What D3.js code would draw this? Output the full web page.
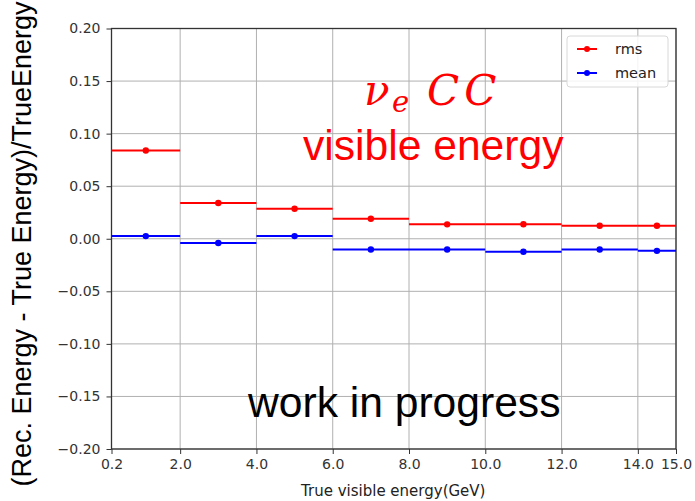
<!DOCTYPE html>
<html>
<head>
<meta charset="utf-8">
<script src="https://cdn.jsdelivr.net/npm/d3@7"></script>
<style>
  html, body { margin: 0; padding: 0; background: #fff; }
  svg { display: block; }
</style>
</head>
<body>
<div id="chart"></div>
<script>
// Energy bins (GeV) and the resolution values per bin
const binEdges   = [0.2, 2, 4, 6, 8, 10, 12, 14, 15];
const binCenters = [1.1, 3, 5, 7, 9, 11, 13, 14.5];
const rmsValues  = [0.084, 0.034, 0.0285, 0.019, 0.0137, 0.0138, 0.0123, 0.0123];
const meanValues = [0.0025, -0.004, 0.0025, -0.0102, -0.0102, -0.0124, -0.0102, -0.0115];

const xTickValues = [0.2, 2, 4, 6, 8, 10, 12, 14, 15];
const xTickLabels = ["0.2", "2.0", "4.0", "6.0", "8.0", "10.0", "12.0", "14.0", "15.0"];
const yTickValues = [-0.20, -0.15, -0.10, -0.05, 0.00, 0.05, 0.10, 0.15, 0.20];
const yTickLabels = ["\u22120.20", "\u22120.15", "\u22120.10", "\u22120.05", "0.00", "0.05", "0.10", "0.15", "0.20"];

const seriesNames  = ["rms", "mean"];
const seriesColors = ["#ff0000", "#0000ff"];

const W = 695, H = 501;
const plot = { left: 111.5, right: 676, top: 28.5, bottom: 449 };

const svg = d3.select("#chart").append("svg")
  .attr("width", W).attr("height", H);

const x = d3.scaleLinear().domain([0.2, 15]).range([plot.left, plot.right]);
const y = d3.scaleLinear().domain([-0.2, 0.2]).range([plot.bottom, plot.top]);

// grid lines
const grid = svg.append("g");
grid.selectAll("line.gx").data(xTickValues).join("line")
  .attr("x1", d => x(d)).attr("x2", d => x(d))
  .attr("y1", plot.top).attr("y2", plot.bottom)
  .attr("stroke", "#b0b0b0").attr("stroke-width", 1);
grid.selectAll("line.gy").data(yTickValues).join("line")
  .attr("x1", plot.left).attr("x2", plot.right)
  .attr("y1", d => y(d)).attr("y2", d => y(d))
  .attr("stroke", "#b0b0b0").attr("stroke-width", 1);

// axes
const xAxis = d3.axisBottom(x).tickValues(xTickValues)
  .tickFormat((d, i) => xTickLabels[i]).tickSize(5).tickPadding(5);
const yAxis = d3.axisLeft(y).tickValues(yTickValues)
  .tickFormat((d, i) => yTickLabels[i]).tickSize(5).tickPadding(6);

const gx = svg.append("g").attr("transform", `translate(0,${plot.bottom})`).call(xAxis);
const gy = svg.append("g").attr("transform", `translate(${plot.left},0)`).call(yAxis);
[gx, gy].forEach(g => {
  g.select(".domain").remove();
  g.selectAll(".tick line").attr("stroke", "#333").attr("stroke-width", 1);
  g.selectAll(".tick text")
    .attr("fill", "#333")
    .style("font-family", "'DejaVu Sans', sans-serif")
    .style("font-size", "14px");
});

// frame
svg.append("rect")
  .attr("x", plot.left).attr("y", plot.top)
  .attr("width", plot.right - plot.left).attr("height", plot.bottom - plot.top)
  .attr("fill", "none").attr("stroke", "#333").attr("stroke-width", 1.3);

// series: horizontal bin segments with a marker at each bin centre
const series = [rmsValues, meanValues];
series.forEach((vals, s) => {
  const g = svg.append("g");
  g.selectAll("line").data(vals).join("line")
    .attr("x1", (d, i) => x(binEdges[i]))
    .attr("x2", (d, i) => x(binEdges[i + 1]))
    .attr("y1", d => y(d)).attr("y2", d => y(d))
    .attr("stroke", seriesColors[s]).attr("stroke-width", 2);
  g.selectAll("circle").data(vals).join("circle")
    .attr("cx", (d, i) => x(binCenters[i]))
    .attr("cy", d => y(d))
    .attr("r", 3.2)
    .attr("fill", seriesColors[s]);
});

// legend
const lg = svg.append("g");
lg.append("rect")
  .attr("x", 567).attr("y", 36).attr("width", 101).attr("height", 51)
  .attr("rx", 3).attr("fill", "#fff").attr("fill-opacity", 0.85)
  .attr("stroke", "#d8d8d8").attr("stroke-width", 1);
seriesNames.forEach((name, i) => {
  const ly = 49 + i * 24;
  lg.append("line")
    .attr("x1", 577).attr("x2", 597).attr("y1", ly).attr("y2", ly)
    .attr("stroke", seriesColors[i]).attr("stroke-width", 2);
  lg.append("circle").attr("cx", 587).attr("cy", ly).attr("r", 3)
    .attr("fill", seriesColors[i]);
  lg.append("text")
    .attr("x", 615).attr("y", ly).attr("dy", "0.35em")
    .style("font-family", "'DejaVu Sans', sans-serif")
    .style("font-size", "14.5px").attr("fill", "#222")
    .text(name);
});

// axis titles
svg.append("text")
  .attr("x", (plot.left + plot.right) / 2 - 0.5).attr("y", 496)
  .attr("text-anchor", "middle")
  .style("font-family", "'DejaVu Sans', sans-serif")
  .style("font-size", "15px").attr("fill", "#222")
  .text("True visible energy(GeV)");

svg.append("text")
  .attr("transform", "translate(31,244) rotate(-90)")
  .attr("text-anchor", "middle")
  .style("font-family", "'Liberation Sans', Arial, sans-serif")
  .style("font-size", "27px").attr("fill", "#000")
  .text("(Rec. Energy - True Energy)/TrueEnergy");

// annotations
const nu = svg.append("text")
  .attr("x", 364).attr("y", 105)
  .style("font-family", "'DejaVu Serif', serif")
  .style("font-style", "italic")
  .style("font-size", "42px").attr("fill", "#ff0000");
nu.append("tspan").text("\u03bd");
nu.append("tspan").attr("x", 392).attr("dy", 7).style("font-size", "29px").text("e");
nu.append("tspan").attr("x", 427).attr("dy", -7).style("letter-spacing", "5px").text("CC");

svg.append("text")
  .attr("x", 303).attr("y", 160)
  .style("font-family", "'Liberation Sans', Arial, sans-serif")
  .style("font-size", "42.6px").attr("fill", "#ff0000")
  .text("visible energy");

svg.append("text")
  .attr("x", 248).attr("y", 417)
  .style("font-family", "'Liberation Sans', Arial, sans-serif")
  .style("font-size", "42.6px").attr("fill", "#000")
  .text("work in progress");
</script>
</body>
</html>
